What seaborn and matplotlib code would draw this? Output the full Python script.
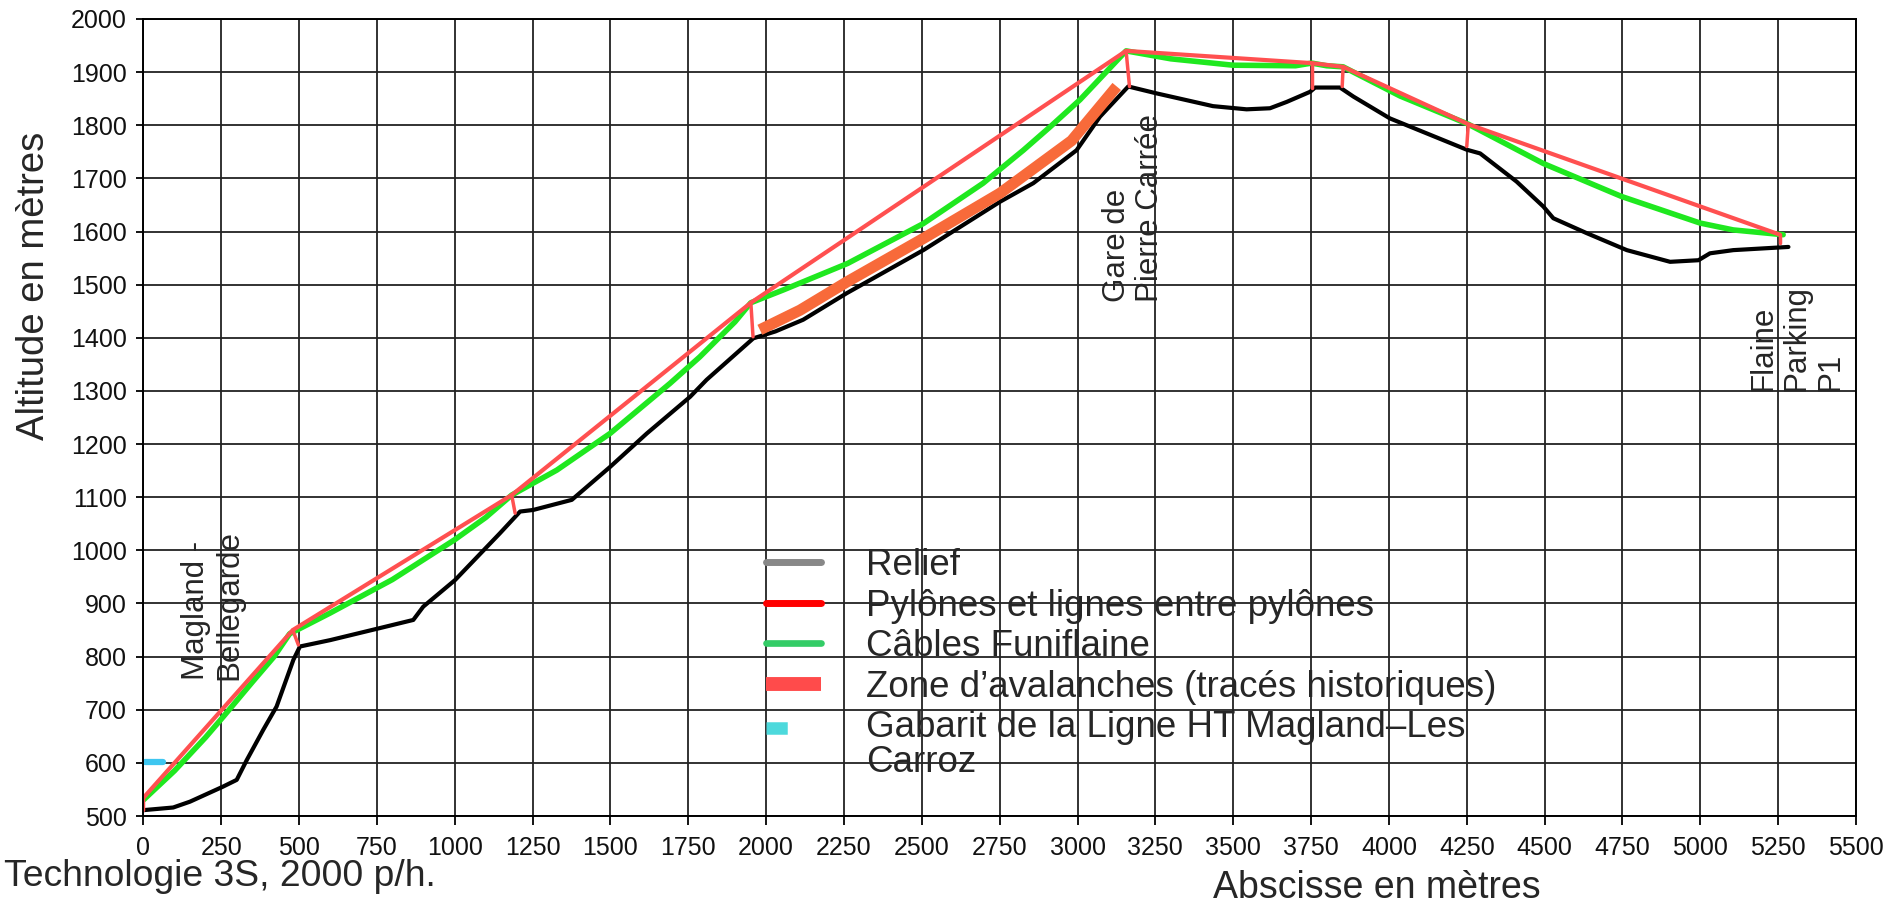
import matplotlib
matplotlib.use("Agg")
import matplotlib.pyplot as plt
from matplotlib.lines import Line2D
from matplotlib.legend_handler import HandlerLine2D
import seaborn as sns
import numpy as np

# relief (terrain profile)
relief_x = [0, 96, 150, 255, 300, 332, 385, 428, 482, 503, 600, 755, 867, 899, 1001,
            1145, 1210, 1252, 1376, 1499, 1617, 1756, 1809, 1959, 2030, 2119, 2259,
            2505, 2751, 2858, 2997, 3072, 3163, 3254, 3435, 3543, 3618, 3672, 3747,
            3763, 3843, 3886, 4003, 4250, 4293, 4410, 4496, 4528, 4635, 4764, 4903,
            4994, 5031, 5106, 5283]
relief_alt = [511, 516, 527, 555, 568, 605, 662, 706, 794, 819, 831, 853, 869, 894, 944,
              1032, 1073, 1076, 1095, 1157, 1220, 1289, 1321, 1399, 1412, 1434, 1484,
              1565, 1656, 1691, 1753, 1816, 1873, 1860, 1836, 1830, 1832, 1844, 1863,
              1871, 1871, 1854, 1813, 1754, 1747, 1694, 1647, 1625, 1597, 1565, 1543,
              1546, 1559, 1565, 1571]

# pylons: top of tower and foot on the relief
pylon_top_x = [0, 480, 1183, 1951, 3156, 3752, 3853, 4255, 5256]
pylon_top = [534, 850, 1104, 1466, 1940, 1917, 1910, 1802, 1594]
pylon_base_x = [0, 498, 1194, 1958, 3167, 3752, 3850, 4250, 5256]
pylon_base = [512, 822, 1070, 1402, 1873, 1870, 1873, 1760, 1578]

# cable Funiflaine (sags between pylons)
cable_x = [0, 100, 200, 257, 350, 420, 470, 600, 800, 1000, 1100, 1183,
           1328, 1499, 1691, 1787, 1900, 1951, 2055, 2262, 2505, 2697, 2826, 2912,
           3008, 3156, 3300, 3500, 3700, 3752, 3800, 3853, 4036, 4255, 4496, 4747,
           4999, 5106, 5266]
cable_alt = [530, 585, 648, 687, 752, 800, 843, 882, 945, 1020, 1062, 1104,
             1151, 1220, 1314, 1364, 1430, 1466, 1490, 1540, 1615, 1691, 1753, 1797,
             1848, 1940, 1925, 1913, 1912, 1917, 1912, 1910, 1855, 1802, 1728, 1666,
             1616, 1603, 1594]

# avalanche zone
aval_x = [1980, 2109, 2259, 2505, 2751, 2981, 3126]
aval_alt = [1415, 1452, 1505, 1587, 1672, 1771, 1873]

# HT line clearance
ht_x = [5, 62]
ht_alt = [601, 601]

labels = ["Relief", "Pylônes et lignes entre pylônes", "Câbles Funiflaine",
          "Zone d’avalanches (tracés historiques)",
          "Gabarit de la Ligne HT Magland–Les\nCarroz"]


# handle drawn level with the first line of a two-line label
class HandlerTopLine(HandlerLine2D):
    def create_artists(self, legend, orig_handle, xdescent, ydescent, width, height,
                       fontsize, trans):
        return super().create_artists(legend, orig_handle, xdescent, ydescent - 0.95 * fontsize,
                                      width, height, fontsize, trans)


sns.set_theme(style="white")
plt.rcParams['font.family'] = ['Liberation Sans', 'DejaVu Sans']

fig = plt.figure(figsize=(18.99, 9.05), dpi=100)
ax = fig.add_axes([0.07546, 0.09834, 0.9019, 0.88067])

sns.lineplot(x=relief_x, y=relief_alt, ax=ax, color="black", lw=3, estimator=None, sort=False)
sns.lineplot(x=aval_x, y=aval_alt, ax=ax, color="#f86a3a", lw=8, estimator=None, sort=False,
             solid_capstyle="butt")
sns.lineplot(x=cable_x, y=cable_alt, ax=ax, color="#1fe81f", lw=4, estimator=None, sort=False)
sns.lineplot(x=pylon_top_x, y=pylon_top, ax=ax, color="#ff5050", lw=3, estimator=None, sort=False)
for bx, b, tx, t in zip(pylon_base_x, pylon_base, pylon_top_x, pylon_top):
    ax.plot([bx, tx], [b, t], color="#ff5050", lw=2.5)
sns.lineplot(x=ht_x, y=ht_alt, ax=ax, color="#3ec6f0", lw=4.5, estimator=None,
             solid_capstyle="round")

ax.set_xlim(0, 5500)
ax.set_ylim(500, 2000)
ax.set_xticks(np.arange(0, 5501, 250))
ax.set_yticks(np.arange(500, 2001, 100))
ax.grid(True, color="#222222", lw=1.3)
ax.set_axisbelow(True)
for s in ax.spines.values():
    s.set_color("black")
    s.set_linewidth(1.4)
ax.tick_params(axis="x", labelsize=18, length=6.5, width=1.3, color="black",
               pad=8, labelcolor="#111111", bottom=True)
ax.tick_params(axis="y", labelsize=18, length=5, width=1.3, color="black",
               pad=7, labelcolor="#111111", left=True)

ax.set_xlabel("Abscisse en mètres", fontsize=27, va="center")
ax.xaxis.set_label_coords(0.7203, -0.0903)
ax.set_ylabel("Altitude en mètres", fontsize=27.5, va="center")
ax.yaxis.set_label_coords(-0.0638, 0.665)

# station names
ax.text(224, 756, "Magland -\nBellegarde", rotation=90, fontsize=22.5, ha="center",
        va="bottom", multialignment="left", linespacing=1.15)
ax.text(3180, 1468, "Gare de\nPierre Carrée", rotation=90, fontsize=22.5, ha="center",
        va="bottom", multialignment="left", linespacing=1.15)
ax.text(5310, 1299, "Flaine\nParking\nP1", rotation=90, fontsize=22.5, ha="center",
        va="bottom", multialignment="left", linespacing=1.15)

fig.text(0.002, 0.032, "Technologie 3S, 2000 p/h.", fontsize=26.8, va="center", ha="left")

handles = [Line2D([], [], color="#888888", lw=5),
           Line2D([], [], color="#ff0000", lw=5),
           Line2D([], [], color="#33cc66", lw=4.8),
           Line2D([], [], color="#ff4b4b", lw=10, solid_capstyle="butt"),
           Line2D([], [], color="#4dd9dc", lw=9, linestyle=(0, (1.7, 10)),
                  dash_capstyle="butt")]
leg = ax.legend(handles, labels, loc="upper left", bbox_to_anchor=(0.3636, 0.336),
                frameon=False, fontsize=26.5, borderpad=0, borderaxespad=0,
                handlelength=1.5, handletextpad=1.22, labelspacing=0.15,
                handler_map={handles[4]: HandlerTopLine()})
for t in leg.get_texts():
    t.set_linespacing(0.98)

fig.savefig("out.png", dpi=100)
